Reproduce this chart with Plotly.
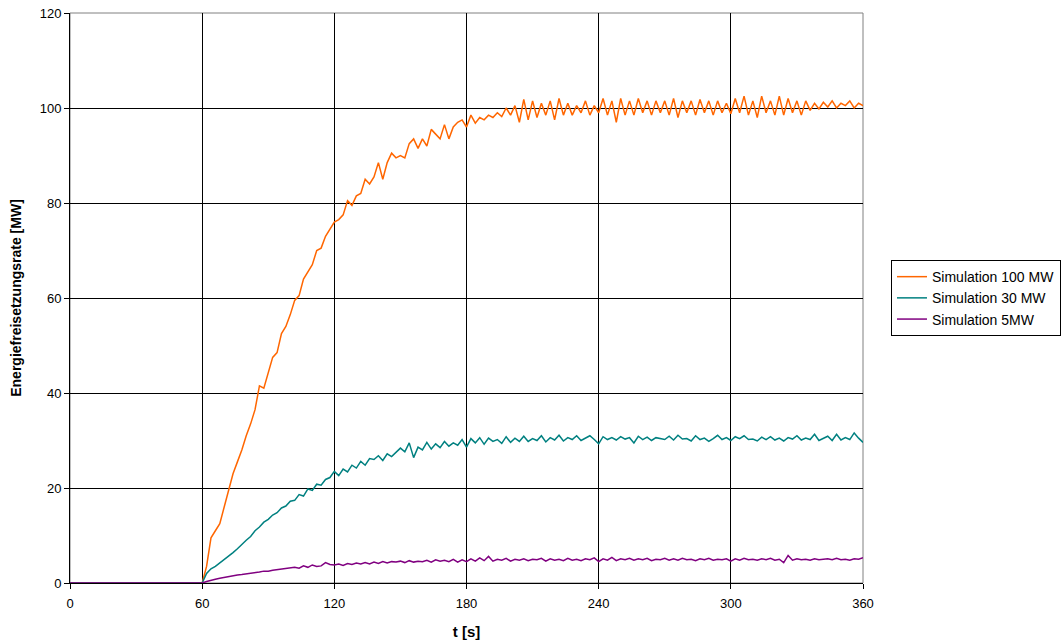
import plotly.graph_objects as go

# time axis (s): one point at 0, then every 2 s from 60 to 360
t_start = [0]
t_steps = list(range(60, 361, 2))
time_s = t_start + t_steps

sim_100 = [0,
    0, 3.5, 9.5, 11, 12.5, 16, 19.5, 23, 25.5, 28,
    31, 33.5, 36.5, 41.5, 41, 44, 47.5, 48.5, 52.5, 54,
    56.5, 59.5, 60.5, 64, 65.5, 67, 70, 70.5, 73, 74.5,
    76, 76.5, 77.5, 80.5, 79.5, 81.5, 82, 85, 84, 85.5,
    88.5, 85, 88.5, 90.5, 89.5, 90, 89.5, 92.5, 93.5, 91.5,
    93.5, 92, 95.5, 94.5, 93.5, 96.5, 93.5, 96, 97, 97.5,
    96, 98.5, 96.8, 98, 97.5, 98.5, 98, 99, 98.2, 100,
    98.5, 100.5, 97, 101.8, 97.5, 101.5, 98, 101, 98.5, 101.5,
    97.5, 102, 98.5, 101, 98.5, 100.5, 99, 101.5, 98.5, 100.5,
    99, 102, 98.5, 101.5, 97, 102, 98.5, 101.5, 98.5, 102,
    99, 101.5, 98.5, 101.5, 99, 101.5, 98.5, 102, 98, 101.5,
    99, 101.5, 98.5, 101.8, 99, 101.5, 98.5, 101.5, 99, 101,
    98.8, 102, 99, 102.5, 98.5, 101.5, 98, 102.5, 99, 101.5,
    98.5, 102.5, 98.5, 102, 99, 101.5, 98.5, 101.5, 99.5, 101,
    99.8, 101.2, 100.2, 101.5, 100, 101, 100.5, 101.5, 100, 101,
    100.5]

sim_30 = [0,
    0, 2, 3, 3.5, 4.2, 5, 5.6, 6.4, 7.2, 8.2,
    9, 9.8, 11, 11.8, 12.8, 13.4, 14.3, 14.8, 15.8, 16.2,
    17.2, 17.4, 18.6, 18.3, 19.8, 19.5, 20.8, 20.6, 21.8, 22.2,
    23.5, 22.6, 24, 23.4, 24.8, 24.2, 25.6, 24.8, 26.2, 26,
    26.8, 25.8, 27.2, 26.6, 27.5, 28.4, 27.6, 29.5, 26.4, 28.6,
    28, 29.6, 28.2, 29.3, 28.5, 29.8, 28.8, 29.5, 29, 30.2,
    28.6, 30.4, 29.5, 30.6, 29.2, 30.5, 29.8, 30.2, 29.4, 30.8,
    29.6, 30.5, 29.8, 30.9, 29.8, 30.4, 30, 31, 29.7, 30.6,
    30.1, 31.1, 29.9, 30.6, 30.2, 31, 30, 30.5, 31, 30.2,
    29.3, 30.8, 30.2, 30.6, 30.1, 30.8, 30.3, 30.6, 29.5, 30.9,
    30.2, 30.7, 30, 30.6, 30.4, 30.2, 30.9, 30.1, 31.1, 30.3,
    30.4, 29.9, 31, 30.2, 30.5, 29.8, 30.4, 31.1, 30.2, 30.6,
    30, 30.8, 30.4, 31, 30.2, 30.3, 29.9, 30.7, 30.2, 30.8,
    30.1, 30.5, 29.9, 30.6, 30.3, 31, 30.1, 30.5, 30.2, 31.3,
    30, 30.4, 30.9, 30, 31.3, 30.1, 30.6, 30.2, 31.6, 30.5,
    29.6]

sim_5 = [0,
    0, 0.3, 0.6, 0.8, 1, 1.2, 1.3, 1.5, 1.7, 1.8,
    1.9, 2.1, 2.2, 2.3, 2.5, 2.5, 2.7, 2.8, 2.9, 3,
    3.1, 3.3, 3.1, 3.6, 3.3, 3.8, 3.5, 3.6, 4.3, 3.9,
    3.8, 4, 3.7, 4.1, 3.9, 4.2, 4, 4.3, 4, 4.4,
    4.1, 4.5, 4.2, 4.5, 4.4, 4.6, 4.3, 4.7, 4.4, 4.6,
    4.5, 4.8, 4.4, 4.9, 4.6, 4.8, 4.5, 5, 4.4, 4.9,
    4.5, 5.1, 4.6, 5.3, 4.7, 5.6, 4.6, 5, 4.8, 5.2,
    4.6, 5, 4.8, 5.1, 4.7, 5, 4.9, 5.2, 4.6, 5.1,
    4.8, 5, 4.7, 5.2, 4.8, 5, 4.7, 5.1, 4.9, 5.3,
    4.5, 5.1, 4.8, 5.4, 4.7, 5.1, 4.9, 5.2, 4.8, 5.1,
    4.9, 5.2, 4.7, 5, 4.9, 5.2, 4.8, 5.1, 4.8, 5.2,
    4.9, 5, 4.7, 5.1, 4.9, 5.2, 4.8, 5, 4.9, 5.1,
    4.6, 5.1, 4.8, 5.2, 4.9, 5, 4.8, 5.1, 4.9, 5.2,
    4.8, 5, 4.3, 5.8, 4.8, 5.1, 4.9, 5, 4.8, 5.1,
    4.9, 5, 5.1, 4.9, 5.2, 4.9, 5, 4.8, 5.1, 5,
    5.3]

series_names = ["Simulation 100 MW", "Simulation 30 MW", "Simulation 5MW"]
series_colors = ["#FF6600", "#008080", "#800080"]
x_ticks = [0, 60, 120, 180, 240, 300, 360]
y_ticks = [0, 20, 40, 60, 80, 100, 120]

FONT = "Liberation Sans, Arial, sans-serif"

fig = go.Figure()
for name, vals, col in zip(series_names, [sim_100, sim_30, sim_5], series_colors):
    fig.add_trace(go.Scatter(x=time_s, y=vals, mode="lines", name=name,
                             line=dict(color=col, width=1.5)))

fig.update_layout(
    width=1063, height=641,
    margin=dict(l=70, r=200, t=13, b=58, autoexpand=False),
    paper_bgcolor="white", plot_bgcolor="white",
    font=dict(family=FONT, size=13, color="black"),
    showlegend=True,
    legend=dict(xref="container", yref="container", x=0.9981, y=0.535,
                xanchor="right", yanchor="middle",
                bordercolor="black", borderwidth=1, bgcolor="white",
                font=dict(size=14), tracegroupgap=0, itemwidth=30),
    shapes=[dict(type="rect", xref="paper", yref="paper", x0=0, y0=0, x1=1, y1=1,
                 line=dict(color="#808080", width=1), layer="below")],
)
fig.update_xaxes(range=[0, 360], tickvals=x_ticks, ticks="outside", ticklen=5,
                 tickcolor="black", showline=True, linecolor="black", linewidth=1,
                 showgrid=True, gridcolor="black", gridwidth=1, zeroline=False,
                 ticklabelstandoff=3,
                 title=dict(text="<b>t [s]</b>", standoff=16, font=dict(size=15)),
                 automargin=False)
fig.update_yaxes(range=[0, 120], tickvals=y_ticks, ticks="outside", ticklen=5,
                 tickcolor="black", showline=True, linecolor="black", linewidth=1,
                 showgrid=True, gridcolor="black", gridwidth=1, zeroline=False,
                 title=dict(text="<b>Energiefreisetzungsrate [MW]</b>", standoff=14,
                            font=dict(size=14)),
                 automargin=False)

fig.write_html("out.html")
